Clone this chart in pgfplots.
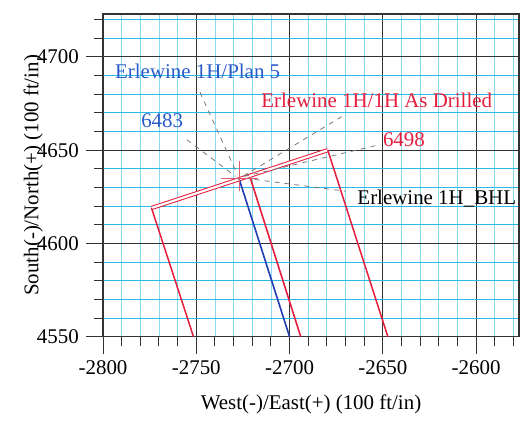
\documentclass[border=0pt]{standalone}
\usepackage{fontspec}
\setmainfont{Liberation Serif}
\usepackage{pgfplots}
\pgfplotsset{compat=1.18}
\definecolor{drill}{RGB}{228,30,60}
\definecolor{plan}{RGB}{30,60,180}
\definecolor{planlab}{RGB}{40,90,200}
\definecolor{minorh}{RGB}{40,185,230}
\definecolor{minorv}{RGB}{140,215,240}
\definecolor{majorg}{RGB}{50,50,50}
\definecolor{lead}{RGB}{120,120,120}
\definecolor{cross}{RGB}{225,90,110}
\begin{document}
\fontsize{21}{25}\selectfont
\begin{tikzpicture}
\begin{axis}[
  x=1.865bp, y=1.865bp,
  xmin=-2800, xmax=-2577, ymin=4550, ymax=4723,
  axis line style={majorg, line width=1.2bp},
  xtick={-2800,-2750,-2700,-2650,-2600},
  ytick={4550,4600,4650,4700},
  xticklabel={\pgfmathprintnumber[assume math mode=true,1000 sep={}]{\tick}},
  yticklabel={\pgfmathprintnumber[assume math mode=true,1000 sep={}]{\tick}},
  minor xtick={-2790,-2780,-2770,-2760,-2740,-2730,-2720,-2710,-2690,-2680,-2670,-2660,-2640,-2630,-2620,-2610,-2590,-2580},
  minor ytick={4560,4570,4580,4590,4610,4620,4630,4640,4660,4670,4680,4690,4710,4720},
  tick align=outside,
  tick pos=left,
  major tick length=17bp, minor tick length=9bp,
  every tick/.style={majorg, line width=1bp},
  grid=both,
  major grid style={majorg, line width=1bp},
  minor x grid style={minorv, line width=0.8bp},
  minor y grid style={minorh, line width=1.1bp},
  tick label style={font=\fontsize{21}{25}\selectfont},
  xlabel={West(-)/East(+) (100 ft/in)},
  ylabel={South(-)/North(+) (100 ft/in)},
  label style={font=\fontsize{21}{25}\selectfont},
  xlabel style={at={(axis description cs:0.5,-0.21)}, anchor=center},
  ylabel style={at={(axis description cs:-0.168,0.5)}, anchor=center},
  clip=false,
]
% lease lines (rectangle)
\addplot[drill, line width=1bp, double=white, double distance=2.2bp] coordinates {(-2774,4619) (-2679.5,4650)};
\addplot[drill, line width=1.5bp] coordinates {(-2774,4619) (-2751.5,4550)};
\addplot[drill, line width=1.5bp] coordinates {(-2679.5,4650) (-2647.3,4550)};
% leader lines
\addplot[lead, line width=0.8bp, dash pattern=on 5bp off 5bp] coordinates {(-2748,4681) (-2728,4637)};
\addplot[lead, line width=0.8bp, dash pattern=on 5bp off 5bp] coordinates {(-2755,4655.6) (-2729,4636)};
\addplot[lead, line width=0.8bp, dash pattern=on 5bp off 5bp] coordinates {(-2672,4668) (-2725,4636)};
\addplot[lead, line width=0.8bp, dash pattern=on 5bp off 5bp] coordinates {(-2654,4652.4) (-2724,4636)};
\addplot[lead, line width=0.8bp, dash pattern=on 5bp off 5bp] coordinates {(-2724,4635) (-2670,4628)};
% plan and drilled wellbores
\addplot[plan, line width=1.6bp] coordinates {(-2727,4634.5) (-2700,4550)};
\addplot[drill, line width=1.6bp] coordinates {(-2721,4635) (-2694,4550)};
% surface cross
\addplot[cross, line width=1.3bp] coordinates {(-2727,4628) (-2727,4644)};
\addplot[cross, line width=1.3bp] coordinates {(-2736.5,4635) (-2717,4635)};
% labels
\node[anchor=west, inner sep=0pt, text=planlab] at (axis cs:-2793.6,4692) {Erlewine 1H/Plan 5};
\node[anchor=west, inner sep=0pt, text=planlab] at (axis cs:-2779.6,4665.8) {6483};
\node[anchor=west, inner sep=0pt, text=drill] at (axis cs:-2715.2,4676.5) {Erlewine 1H/1H As Drilled};
\node[anchor=west, inner sep=0pt, text=drill] at (axis cs:-2650,4655.6) {6498};
\node[anchor=west, inner sep=0pt, text=black] at (axis cs:-2663.7,4624) {Erlewine 1H\_BHL};
\end{axis}
\pgfresetboundingbox
\path ([shift={(-103bp,-88bp)}]current axis.south west) rectangle ([shift={(10bp,14bp)}]current axis.north east);
\end{tikzpicture}
\end{document}
